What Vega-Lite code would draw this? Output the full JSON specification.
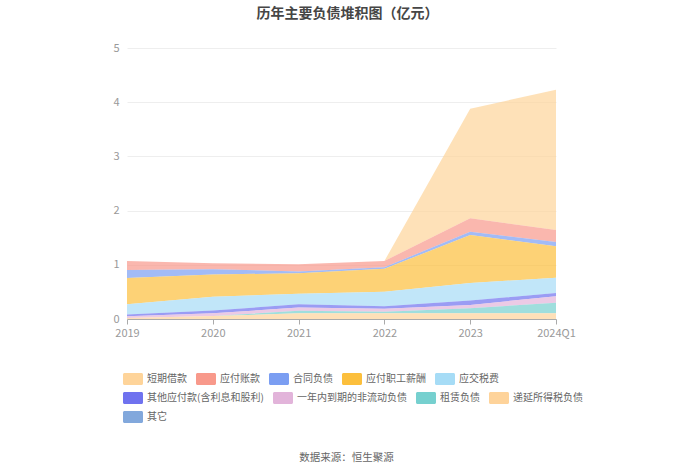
{
  "$schema": "https://vega.github.io/schema/vega-lite/v6.json",
  "width": 429,
  "height": 271,
  "autosize": {"type": "none"},
  "padding": {"left": 127, "top": 48, "right": 144, "bottom": 155},
  "background": "white",
  "title": {
    "text": "数据来源：恒生聚源",
    "orient": "bottom",
    "anchor": "middle",
    "frame": "group",
    "dx": 5,
    "offset": 30,
    "font": "Noto Sans CJK SC",
    "fontSize": 10.5,
    "fontWeight": "normal",
    "color": "#666666"
  },
  "config": {
    "view": {"stroke": null},
    "font": "Noto Sans CJK SC",
    "legend": {
      "title": null,
      "orient": "bottom",
      "direction": "horizontal",
      "symbolType": "M-1.417,-1 h2.833 a0.25,0.25 0 0 1 0.25,0.25 v1.5 a0.25,0.25 0 0 1 -0.25,0.25 h-2.833 a0.25,0.25 0 0 1 -0.25,-0.25 v-1.5 a0.25,0.25 0 0 1 0.25,-0.25 z",
      "symbolSize": 144,
      "symbolOpacity": 1,
      "symbolStrokeWidth": 0,
      "labelOffset": 8,
      "labelFontSize": 10,
      "labelColor": "#666666",
      "columnPadding": 8,
      "offset": 35,
      "layout": {
        "bottom": {"direction": "vertical", "anchor": "start", "margin": 7}
      }
    }
  },
  "data": {
    "values": [
      {"p": "2019", "s": "短期借款", "k": 0, "v": 0},
      {"p": "2019", "s": "应付账款", "k": 1, "v": 0.165},
      {"p": "2019", "s": "合同负债", "k": 2, "v": 0.15},
      {"p": "2019", "s": "应付职工薪酬", "k": 3, "v": 0.485},
      {"p": "2019", "s": "应交税费", "k": 4, "v": 0.185},
      {"p": "2019", "s": "其他应付款(含利息和股利)", "k": 5, "v": 0.035},
      {"p": "2019", "s": "一年内到期的非流动负债", "k": 6, "v": 0.03},
      {"p": "2019", "s": "租赁负债", "k": 7, "v": 0},
      {"p": "2019", "s": "递延所得税负债", "k": 8, "v": 0.02},
      {"p": "2019", "s": "其它", "k": 9, "v": 0},
      {"p": "2020", "s": "短期借款", "k": 0, "v": 0},
      {"p": "2020", "s": "应付账款", "k": 1, "v": 0.11},
      {"p": "2020", "s": "合同负债", "k": 2, "v": 0.10},
      {"p": "2020", "s": "应付职工薪酬", "k": 3, "v": 0.41},
      {"p": "2020", "s": "应交税费", "k": 4, "v": 0.255},
      {"p": "2020", "s": "其他应付款(含利息和股利)", "k": 5, "v": 0.05},
      {"p": "2020", "s": "一年内到期的非流动负债", "k": 6, "v": 0.05},
      {"p": "2020", "s": "租赁负债", "k": 7, "v": 0},
      {"p": "2020", "s": "递延所得税负债", "k": 8, "v": 0.055},
      {"p": "2020", "s": "其它", "k": 9, "v": 0},
      {"p": "2021", "s": "短期借款", "k": 0, "v": 0},
      {"p": "2021", "s": "应付账款", "k": 1, "v": 0.135},
      {"p": "2021", "s": "合同负债", "k": 2, "v": 0.03},
      {"p": "2021", "s": "应付职工薪酬", "k": 3, "v": 0.38},
      {"p": "2021", "s": "应交税费", "k": 4, "v": 0.195},
      {"p": "2021", "s": "其他应付款(含利息和股利)", "k": 5, "v": 0.06},
      {"p": "2021", "s": "一年内到期的非流动负债", "k": 6, "v": 0.06},
      {"p": "2021", "s": "租赁负债", "k": 7, "v": 0.045},
      {"p": "2021", "s": "递延所得税负债", "k": 8, "v": 0.105},
      {"p": "2021", "s": "其它", "k": 9, "v": 0},
      {"p": "2022", "s": "短期借款", "k": 0, "v": 0},
      {"p": "2022", "s": "应付账款", "k": 1, "v": 0.115},
      {"p": "2022", "s": "合同负债", "k": 2, "v": 0.03},
      {"p": "2022", "s": "应付职工薪酬", "k": 3, "v": 0.42},
      {"p": "2022", "s": "应交税费", "k": 4, "v": 0.27},
      {"p": "2022", "s": "其他应付款(含利息和股利)", "k": 5, "v": 0.045},
      {"p": "2022", "s": "一年内到期的非流动负债", "k": 6, "v": 0.055},
      {"p": "2022", "s": "租赁负债", "k": 7, "v": 0.03},
      {"p": "2022", "s": "递延所得税负债", "k": 8, "v": 0.105},
      {"p": "2022", "s": "其它", "k": 9, "v": 0},
      {"p": "2023", "s": "短期借款", "k": 0, "v": 2.02},
      {"p": "2023", "s": "应付账款", "k": 1, "v": 0.25},
      {"p": "2023", "s": "合同负债", "k": 2, "v": 0.06},
      {"p": "2023", "s": "应付职工薪酬", "k": 3, "v": 0.885},
      {"p": "2023", "s": "应交税费", "k": 4, "v": 0.325},
      {"p": "2023", "s": "其他应付款(含利息和股利)", "k": 5, "v": 0.08},
      {"p": "2023", "s": "一年内到期的非流动负债", "k": 6, "v": 0.06},
      {"p": "2023", "s": "租赁负债", "k": 7, "v": 0.095},
      {"p": "2023", "s": "递延所得税负债", "k": 8, "v": 0.105},
      {"p": "2023", "s": "其它", "k": 9, "v": 0},
      {"p": "2024Q1", "s": "短期借款", "k": 0, "v": 2.59},
      {"p": "2024Q1", "s": "应付账款", "k": 1, "v": 0.22},
      {"p": "2024Q1", "s": "合同负债", "k": 2, "v": 0.08},
      {"p": "2024Q1", "s": "应付职工薪酬", "k": 3, "v": 0.58},
      {"p": "2024Q1", "s": "应交税费", "k": 4, "v": 0.28},
      {"p": "2024Q1", "s": "其他应付款(含利息和股利)", "k": 5, "v": 0.06},
      {"p": "2024Q1", "s": "一年内到期的非流动负债", "k": 6, "v": 0.12},
      {"p": "2024Q1", "s": "租赁负债", "k": 7, "v": 0.195},
      {"p": "2024Q1", "s": "递延所得税负债", "k": 8, "v": 0.105},
      {"p": "2024Q1", "s": "其它", "k": 9, "v": 0}
    ]
  },
  "transform": [
    {"stack": "v", "groupby": ["p"], "sort": [{"field": "k", "order": "descending"}], "as": ["y0", "y1"]}
  ],
  "layer": [
    {
      "transform": [{"filter": "datum.k <= 4"}],
      "mark": {"type": "area", "opacity": 0.7, "interpolate": "linear"},
      "encoding": {
        "x": {
          "field": "p",
          "type": "ordinal",
          "scale": {"type": "point", "padding": 0},
          "axis": {
            "title": null,
            "orient": "bottom",
            "labelAngle": 0,
            "labelColor": "#999999",
            "labelFontSize": 11,
            "labelPadding": 3,
            "domainColor": "#aaaaaa",
            "tickColor": "#aaaaaa",
            "tickSize": 5,
            "grid": false
          }
        },
        "y": {
          "field": "y1",
          "type": "quantitative",
          "scale": {"domain": [0, 5], "nice": false},
          "axis": {
            "title": null,
            "values": [0, 1, 2, 3, 4, 5],
            "labelColor": "#999999",
            "labelFontSize": 11,
            "labelPadding": 8,
            "domain": false,
            "ticks": false,
            "gridColor": "#eeeeee"
          }
        },
        "y2": {"field": "y0"},
        "color": {
          "field": "s",
          "type": "nominal",
          "scale": {
            "domain": ["短期借款", "应付账款", "合同负债", "应付职工薪酬", "应交税费"],
            "range": ["#fed49a", "#f8998b", "#7b9ef2", "#fcbf3c", "#a6dcf6"]
          }
        }
      }
    },
    {
      "transform": [{"filter": "datum.k >= 5 && datum.k <= 8"}],
      "mark": {"type": "area", "opacity": 0.7, "interpolate": "linear"},
      "encoding": {
        "x": {"field": "p", "type": "ordinal", "scale": {"type": "point", "padding": 0}, "axis": null},
        "y": {
          "field": "y1",
          "type": "quantitative",
          "scale": {"domain": [0, 5], "nice": false},
          "axis": {
            "title": null,
            "values": [0, 1, 2, 3, 4, 5],
            "labelColor": "#999999",
            "labelFontSize": 11,
            "labelPadding": 8,
            "domain": false,
            "ticks": false,
            "gridColor": "#eeeeee"
          }
        },
        "y2": {"field": "y0"},
        "color": {
          "field": "s",
          "type": "nominal",
          "scale": {
            "domain": ["其他应付款(含利息和股利)", "一年内到期的非流动负债", "租赁负债", "递延所得税负债"],
            "range": ["#6f72ef", "#e2b4da", "#76d0cf", "#fed39a"]
          }
        }
      }
    },
    {
      "transform": [{"filter": "datum.k == 9"}],
      "mark": {"type": "area", "opacity": 0.7, "interpolate": "linear"},
      "encoding": {
        "x": {"field": "p", "type": "ordinal", "scale": {"type": "point", "padding": 0}, "axis": null},
        "y": {
          "field": "y1",
          "type": "quantitative",
          "scale": {"domain": [0, 5], "nice": false},
          "axis": {
            "title": null,
            "values": [0, 1, 2, 3, 4, 5],
            "labelColor": "#999999",
            "labelFontSize": 11,
            "labelPadding": 8,
            "domain": false,
            "ticks": false,
            "gridColor": "#eeeeee"
          }
        },
        "y2": {"field": "y0"},
        "color": {
          "field": "s",
          "type": "nominal",
          "scale": {"domain": ["其它"], "range": ["#82a8dc"]}
        }
      }
    },
    {
      "mark": {"type": "rule", "opacity": 0},
      "encoding": {
        "x": {
          "field": "p",
          "type": "ordinal",
          "scale": {"type": "point", "padding": 0},
          "axis": {
            "orient": "top",
            "title": "历年主要负债堆积图（亿元）",
            "titleFontSize": 14,
            "titleFontWeight": "bold",
            "titleColor": "#464646",
            "titlePadding": 28,
            "titleX": 220,
            "titleAlign": "center",
            "labels": false,
            "ticks": false,
            "domain": false,
            "grid": false
          }
        }
      }
    }
  ],
  "resolve": {"axis": {"x": "independent"}, "scale": {"color": "independent"}, "legend": {"color": "independent"}}
}
